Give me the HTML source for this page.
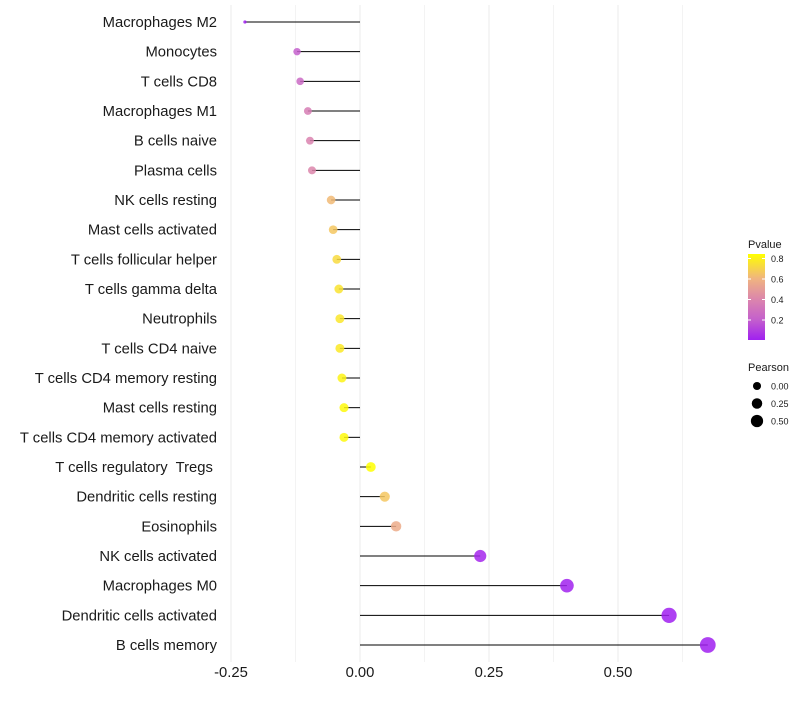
<!DOCTYPE html>
<html><head><meta charset="utf-8"><style>
body{margin:0;background:#fff;}
svg text{font-family:"Liberation Sans",sans-serif;white-space:pre;}
</style></head><body>
<svg id="chart" width="800" height="700" xmlns="http://www.w3.org/2000/svg">
<g id="grid"></g>
<g id="marks"></g>
<g id="ylabels"></g>
<g id="xlabels"></g>
<g id="legend"></g>
</svg>
<script>
const categories=["Macrophages M2","Monocytes","T cells CD8","Macrophages M1","B cells naive","Plasma cells","NK cells resting","Mast cells activated","T cells follicular helper","T cells gamma delta","Neutrophils","T cells CD4 naive","T cells CD4 memory resting","Mast cells resting","T cells CD4 memory activated","T cells regulatory  Tregs ","Dendritic cells resting","Eosinophils","NK cells activated","Macrophages M0","Dendritic cells activated","B cells memory"];
const pearson=[-0.223,-0.122,-0.116,-0.101,-0.097,-0.093,-0.056,-0.052,-0.045,-0.041,-0.039,-0.039,-0.035,-0.031,-0.031,0.021,0.048,0.070,0.233,0.401,0.599,0.674];
const pvalue=[0.0,0.2,0.25,0.35,0.38,0.4,0.62,0.66,0.72,0.75,0.76,0.77,0.8,0.82,0.82,0.86,0.66,0.56,0.02,0.005,0.001,0.0];
const xTicks=[-0.25,0,0.25,0.5];
const xTickLabels=["-0.25","0.00","0.25","0.50"];
const pTicks=[0.2,0.4,0.6,0.8];
const sizeTicks=[0,0.25,0.5];

const NS="http://www.w3.org/2000/svg";
function mk(tag,attrs,parent){const e=document.createElementNS(NS,tag);for(const k in attrs)e.setAttribute(k,attrs[k]);parent.appendChild(e);return e;}
const xScale=v=>360+v*516;
const yScale=i=>22+i*(623/21);
const pMin=Math.min(...pearson),pMax=Math.max(...pearson);
const rScale=v=>{const t=Math.max(0,(v-pMin)/(pMax-pMin));return 1.25*(1.3+5*Math.sqrt(t));};
const stops=[[0,[160,32,240]],[0.2,[196,96,204]],[0.4,[220,134,172]],[0.6,[240,180,128]],[0.84,[255,255,0]]];
function col(p){p=Math.max(0,Math.min(0.84,p));for(let i=1;i<stops.length;i++){if(p<=stops[i][0]){const a=stops[i-1],b=stops[i];const t=(p-a[0])/(b[0]-a[0]);return 'rgb('+a[1].map((c,j)=>Math.round(c+(b[1][j]-c)*t)).join(',')+')';}}return 'rgb(255,255,0)';}

const grid=document.getElementById('grid');
for(let v=-0.375;v<=0.63;v+=0.125){const x=xScale(v);if(x<215||x>790)continue;
 const l=mk('line',{x1:x,x2:x,y1:5,y2:662,stroke:'#ebebeb','stroke-width':Math.abs((v/0.25)%1)<1e-6?1:0.6},grid);
 }
const marks=document.getElementById('marks'),yl=document.getElementById('ylabels');
categories.forEach((c,i)=>{
 const y=yScale(i),x=xScale(pearson[i]);
 const s=mk('line',{x1:xScale(0),x2:x,y1:y,y2:y,stroke:'#000','stroke-width':1},marks);
 
 const p=mk('circle',{cx:x,cy:y,r:rScale(pearson[i]),fill:col(pvalue[i]),'fill-opacity':0.85},marks);
 
 const t=mk('text',{x:217,y:y+5,'text-anchor':'end','font-size':14.8,fill:'#1a1a1a'},yl);t.textContent=c;
 
});
const xl=document.getElementById('xlabels');
xTicks.forEach((v,i)=>{const t=mk('text',{x:xScale(v),y:677,'text-anchor':'middle','font-size':14.8,fill:'#1a1a1a'},xl);t.textContent=xTickLabels[i];
 });
const lg=document.getElementById('legend');
let t=mk('text',{x:748,y:248,'font-size':11,fill:'#1a1a1a'},lg);t.textContent='Pvalue';

const defs=mk('defs',{},lg);const gr=mk('linearGradient',{id:'pg',x1:0,y1:1,x2:0,y2:0},defs);
stops.forEach(s=>mk('stop',{offset:s[0]/0.84,'stop-color':col(s[0])},gr));
const bar=mk('rect',{x:748,y:254,width:17,height:86,fill:'url(#pg)'},lg);

const pY=p=>340.5-p*102.5;
pTicks.forEach(p=>{mk('line',{x1:748,x2:751,y1:pY(p),y2:pY(p),stroke:'#fff'},lg);mk('line',{x1:762,x2:765,y1:pY(p),y2:pY(p),stroke:'#fff'},lg);
 const tt=mk('text',{x:771,y:pY(p)+3.5,'font-size':9,fill:'#1a1a1a'},lg);tt.textContent=p.toFixed(1);
 });
t=mk('text',{x:748,y:371,'font-size':11,fill:'#1a1a1a'},lg);t.textContent='Pearson';

sizeTicks.forEach((v,i)=>{const y=386+i*17.5;const c=mk('circle',{cx:757,cy:y,r:rScale(v)*0.85,fill:'#000'},lg);
 
 const tt=mk('text',{x:771,y:y+3.5,'font-size':9,fill:'#1a1a1a'},lg);tt.textContent=v.toFixed(2);
 });
</script>
</body></html>
